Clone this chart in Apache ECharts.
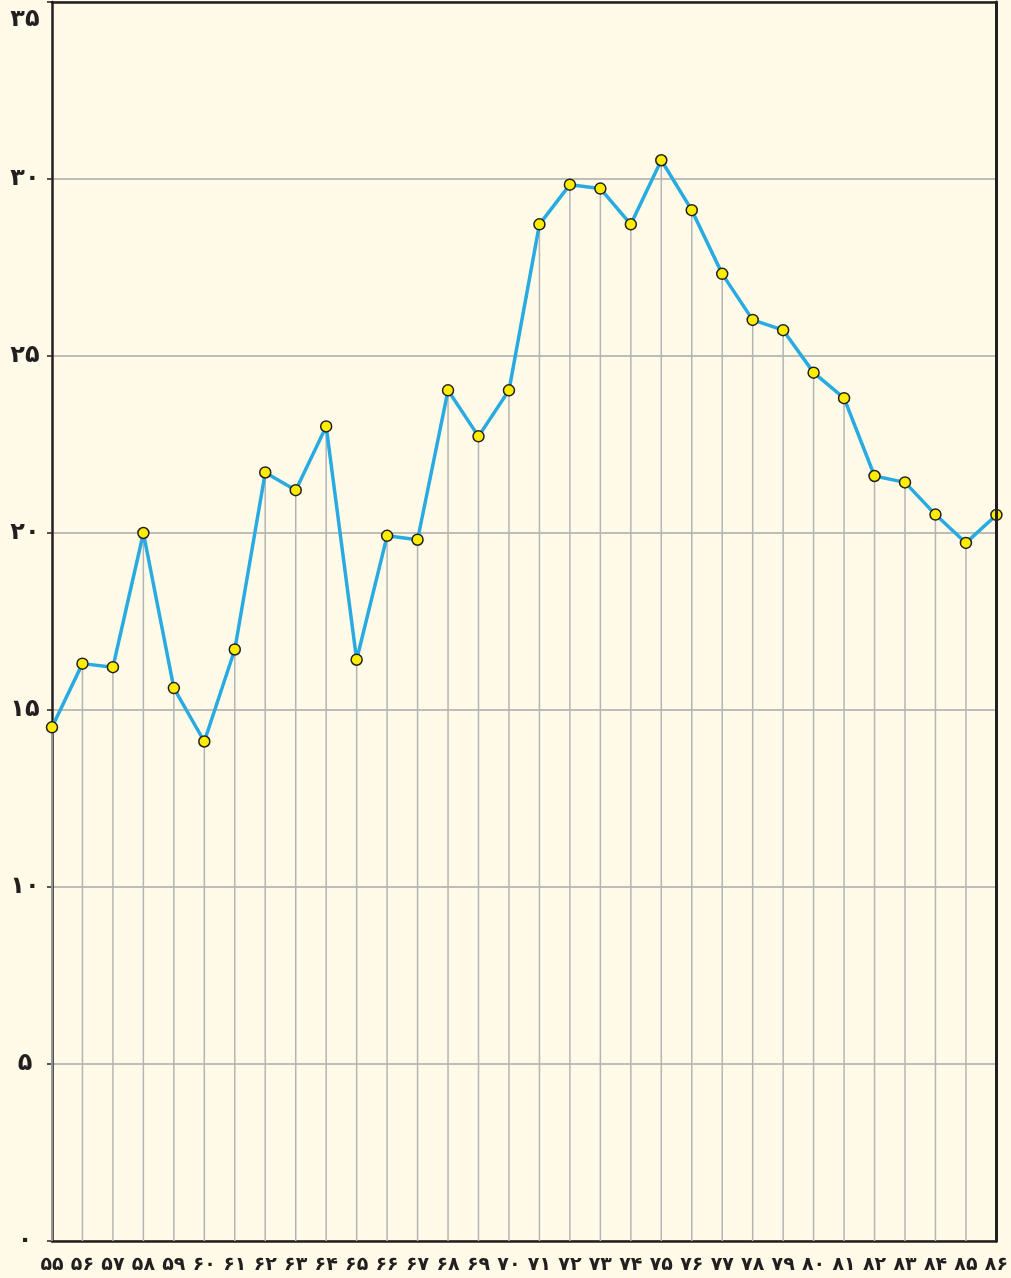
<!DOCTYPE html>
<html>
<head>
<meta charset="utf-8">
<script src="https://cdn.jsdelivr.net/npm/echarts@6/dist/echarts.min.js"></script>
<style>
  html, body { margin: 0; padding: 0; background: #fffbe8; overflow: hidden; }
  #chart { width: 1011px; height: 1278px; }
</style>
</head>
<body>
<div id="chart"></div>
<script>
// سال‌ها (۵۵ تا ۸۶)
const years = [55, 56, 57, 58, 59, 60, 61, 62, 63, 64, 65, 66, 67, 68, 69, 70,
  71, 72, 73, 74, 75, 76, 77, 78, 79, 80, 81, 82, 83, 84, 85, 86];
// مقادیر خوانده‌شده از نمودار
const values = [14.51, 16.31, 16.21, 20.0, 15.62, 14.11, 16.71, 21.71, 21.21, 23.01,
  16.42, 19.92, 19.81, 24.03, 22.73, 24.03, 28.72, 29.84, 29.73, 28.72,
  30.53, 29.12, 27.32, 26.02, 25.73, 24.53, 23.81, 21.61, 21.43, 20.52, 19.72, 20.51];
// تیک‌های محور عمودی
const yTicks = [0, 5, 10, 15, 20, 25, 30, 35];

const faDigits = '۰۱۲۳۴۵۶۷۸۹';
const toFa = n => String(n).replace(/\d/g, d => faDigits[d]);

const dark = '#231f20';
const chart = echarts.init(document.getElementById('chart'));

const option = {
  backgroundColor: '#fffbe8',
  animation: false,
  grid: { left: 52, right: 11, top: 2, bottom: 37 },
  xAxis: [
    {
      type: 'category',
      data: years,
      boundaryGap: false,
      axisLine: { lineStyle: { color: dark, width: 2.5 } },
      axisTick: { show: false },
      axisLabel: {
        interval: 0,
        margin: 15,
        color: dark,
        fontFamily: 'DejaVu Sans',
        fontWeight: 'bold',
        fontSize: 19,
        formatter: v => toFa(v)
      },
      splitLine: { show: false }
    },
    {
      // قاب بالایی
      type: 'category',
      data: years,
      position: 'top',
      boundaryGap: false,
      z: 10,
      axisLine: { onZero: false, lineStyle: { color: dark, width: 2.5 } },
      axisTick: { show: false },
      axisLabel: { show: false }
    }
  ],
  yAxis: [
    {
      type: 'value',
      min: yTicks[0],
      max: yTicks[yTicks.length - 1],
      interval: 5,
      axisLine: { show: true, lineStyle: { color: dark, width: 2.5 } },
      axisTick: { show: true, length: 5, lineStyle: { color: dark, width: 1.5 } },
      axisLabel: {
        margin: 27,
        align: 'center',
        color: dark,
        fontFamily: 'DejaVu Sans',
        fontWeight: 'bold',
        fontSize: 24,
        formatter: v => v === 35 ? '{t|' + toFa(v) + '}' : toFa(v),
        rich: { t: { padding: [36, 0, 0, 0], fontSize: 24, fontWeight: 'bold', fontFamily: 'DejaVu Sans', color: dark } }
      },
      splitLine: { lineStyle: { color: '#a9a9a9', width: 1.5 } }
    },
    {
      // قاب سمت راست
      type: 'value',
      position: 'right',
      min: yTicks[0],
      max: yTicks[yTicks.length - 1],
      interval: 5,
      z: 10,
      axisLine: { show: true, onZero: false, lineStyle: { color: dark, width: 3 } },
      axisTick: { show: false },
      axisLabel: { show: false },
      splitLine: { show: false }
    }
  ],
  series: [
    {
      // خطوط عمودی زیر هر نقطه
      type: 'bar',
      data: values,
      barWidth: 1.5,
      itemStyle: { color: '#b4b4b4' },
      silent: true,
      z: 1
    },
    {
      type: 'line',
      data: values,
      symbol: 'circle',
      symbolSize: 11,
      lineStyle: { color: '#29abe2', width: 3.5 },
      itemStyle: { color: '#ffed00', borderColor: dark, borderWidth: 1.5 },
      z: 5
    }
  ]
};

chart.setOption(option);
</script>
</body>
</html>
